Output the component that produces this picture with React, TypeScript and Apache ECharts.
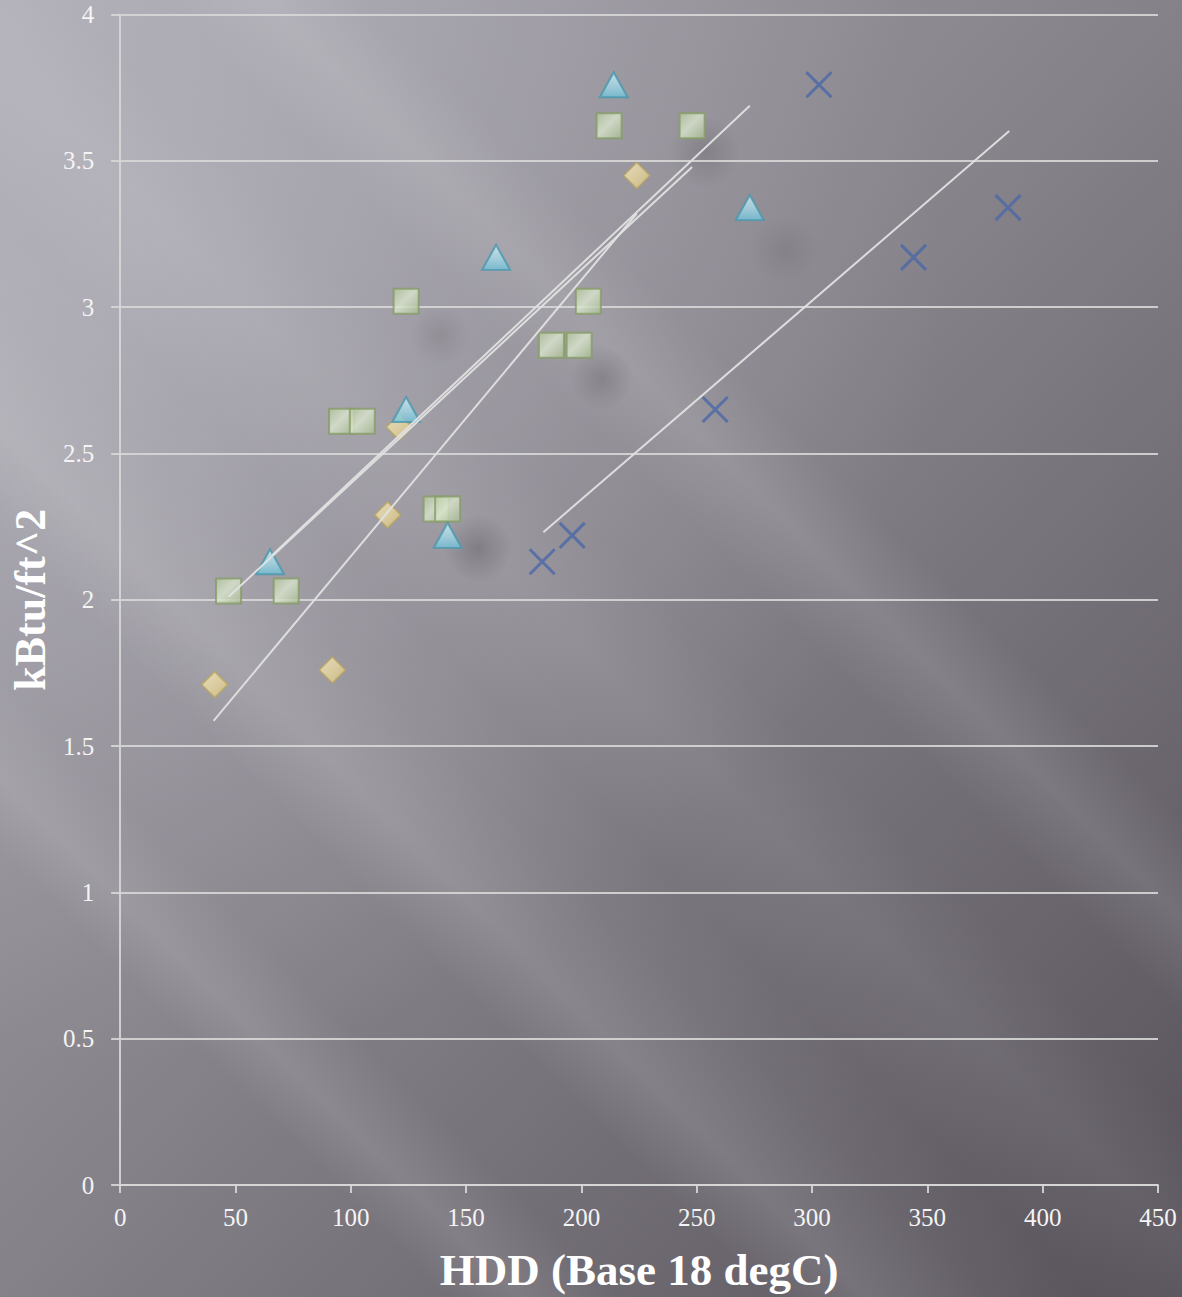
import React, { useEffect, useRef } from "react";
import * as echarts from "echarts";

// Heating degree days (base 18 °C) against heating energy intensity, four building groups
const diamondHdd = [41, 92, 116, 121, 224];
const diamondKbtu = [1.71, 1.76, 2.29, 2.59, 3.45];

const squareHdd = [47, 72, 96, 105, 124, 137, 142, 187, 199, 203, 212, 248];
const squareKbtu = [2.03, 2.03, 2.61, 2.61, 3.02, 2.31, 2.31, 2.87, 2.87, 3.02, 3.62, 3.62];

const triangleHdd = [65, 124, 142, 163, 214, 273];
const triangleKbtu = [2.13, 2.65, 2.22, 3.17, 3.76, 3.34];

const crossHdd = [183, 196, 258, 303, 344, 385];
const crossKbtu = [2.13, 2.22, 2.65, 3.76, 3.17, 3.34];

// Linear trend lines: [hdd, kBtu] at the start and end of each group's range
const diamondTrend = [[40.5, 1.586], [224, 3.32]];
const squareTrend = [[47, 2.01], [248, 3.479]];
const triangleTrend = [[66, 2.153], [273, 3.688]];
const crossTrend = [[183.5, 2.231], [385.5, 3.602]];

const xTicks = { min: 0, max: 450, interval: 50 };
const yTicks = { min: 0, max: 4, interval: 0.5 };

const zip = (xs: number[], ys: number[]) => xs.map((x, i) => [x, ys[i]]);

const FONT = "'Liberation Serif', 'DejaVu Serif', serif";
const AXIS_GREY = "rgba(215,215,215,0.9)";

const diag = (stops: [number, string][]) =>
  new echarts.graphic.LinearGradient(0, 0, 1, 1, stops.map(([offset, color]) => ({ offset, color })));

const trendSeries = (data: number[][]) => ({
  type: "line",
  data,
  symbol: "none",
  silent: true,
  z: 5,
  lineStyle: { color: "rgba(225,225,225,0.95)", width: 2 },
});

export default function App() {
  const ref = useRef<HTMLDivElement>(null);

  useEffect(() => {
    document.body.style.margin = "0";
    if (!ref.current) return;
    const chart = echarts.init(ref.current, null, { renderer: "svg" });
    chart.setOption({
      animation: false,
      backgroundColor: "transparent",
      grid: { left: 120, right: 24, top: 14.5, bottom: 112 },
      xAxis: {
        type: "value",
        ...xTicks,
        name: "HDD (Base 18 degC)",
        nameLocation: "middle",
        nameGap: 62,
        nameTextStyle: { color: "#ffffff", fontFamily: FONT, fontWeight: "bold", fontSize: 45 },
        axisLine: { show: true, lineStyle: { color: AXIS_GREY, width: 2 } },
        axisTick: { show: true, length: 8, lineStyle: { color: AXIS_GREY, width: 2 } },
        axisLabel: { color: "#f4f4f4", fontFamily: FONT, fontSize: 25, margin: 20 },
        splitLine: { show: false },
      },
      yAxis: {
        type: "value",
        ...yTicks,
        name: "kBtu/ft^2",
        nameLocation: "middle",
        nameRotate: 90,
        nameGap: 64,
        nameTextStyle: { color: "#ffffff", fontFamily: FONT, fontWeight: "bold", fontSize: 44 },
        axisLine: { show: true, lineStyle: { color: AXIS_GREY, width: 2 } },
        axisTick: { show: true, length: 9, lineStyle: { color: AXIS_GREY, width: 2 } },
        axisLabel: { color: "#f4f4f4", fontFamily: FONT, fontSize: 25, margin: 26 },
        splitLine: { show: true, lineStyle: { color: AXIS_GREY, width: 2 } },
      },
      series: [
        {
          type: "scatter",
          data: zip(diamondHdd, diamondKbtu),
          symbol: "diamond",
          symbolSize: [26, 26],
          z: 2,
          itemStyle: {
            color: diag([[0, "#f6ebc2"], [0.5, "#ead9a0"], [1, "#d5bf7c"]]),
            borderColor: "#b9a55e",
            borderWidth: 1.5,
          },
        },
        {
          type: "scatter",
          data: zip(squareHdd, squareKbtu),
          symbol: "rect",
          symbolSize: [25, 25],
          z: 3,
          itemStyle: {
            color: diag([[0, "#b4c69c"], [0.45, "#dbe6cf"], [0.55, "#d3dfc5"], [1, "#a9bd92"]]),
            borderColor: "#869c66",
            borderWidth: 2,
          },
        },
        {
          type: "scatter",
          data: zip(triangleHdd, triangleKbtu),
          symbol: "triangle",
          symbolSize: [28, 25],
          z: 4,
          itemStyle: {
            color: new echarts.graphic.LinearGradient(0, 0, 0, 1, [
              { offset: 0, color: "#d2f0f7" },
              { offset: 0.6, color: "#9dd6e6" },
              { offset: 1, color: "#6fbfd6" },
            ]),
            borderColor: "#4a97ae",
            borderWidth: 2,
          },
        },
        {
          type: "scatter",
          data: zip(crossHdd, crossKbtu),
          symbol: "path://M0,0 L10,10 M10,0 L0,10",
          symbolSize: [25, 25],
          z: 4,
          itemStyle: { color: "rgba(0,0,0,0)", borderColor: "#4a68a8", borderWidth: 3 },
        },
        trendSeries(diamondTrend),
        trendSeries(squareTrend),
        trendSeries(triangleTrend),
        trendSeries(crossTrend),
      ],
    });
    return () => chart.dispose();
  }, []);

  const background = [
    // soft dark smudges
    "radial-gradient(circle at 478px 548px, rgba(60,55,62,0.28) 0, rgba(60,55,62,0) 34px)",
    "radial-gradient(circle at 602px 378px, rgba(60,55,62,0.22) 0, rgba(60,55,62,0) 32px)",
    "radial-gradient(circle at 705px 152px, rgba(60,55,62,0.2) 0, rgba(60,55,62,0) 36px)",
    "radial-gradient(circle at 440px 335px, rgba(60,55,62,0.14) 0, rgba(60,55,62,0) 30px)",
    "radial-gradient(circle at 785px 250px, rgba(60,55,62,0.12) 0, rgba(60,55,62,0) 34px)",
    // light diagonal streaks
    "linear-gradient(45deg, rgba(255,255,255,0) 18%, rgba(255,255,255,0.1) 21%, rgba(255,255,255,0) 25%, rgba(255,255,255,0) 31%, rgba(255,255,255,0.12) 35%, rgba(255,255,255,0.03) 40%, rgba(255,255,255,0) 44%, rgba(255,255,255,0.06) 50%, rgba(255,255,255,0) 55%, rgba(255,255,255,0) 59%, rgba(255,255,255,0.1) 63%, rgba(255,255,255,0) 67%)",
    // overall shading
    "radial-gradient(ellipse at 10% 20%, rgba(205,205,215,0.35) 0%, rgba(205,205,215,0) 55%)",
    "linear-gradient(to bottom right, #aaa8b0 0%, #87838b 48%, #57525a 100%)",
  ].join(", ");

  return (
    <div style={{ width: 1182, height: 1297, background }}>
      <div ref={ref} style={{ width: 1182, height: 1297 }} />
    </div>
  );
}
